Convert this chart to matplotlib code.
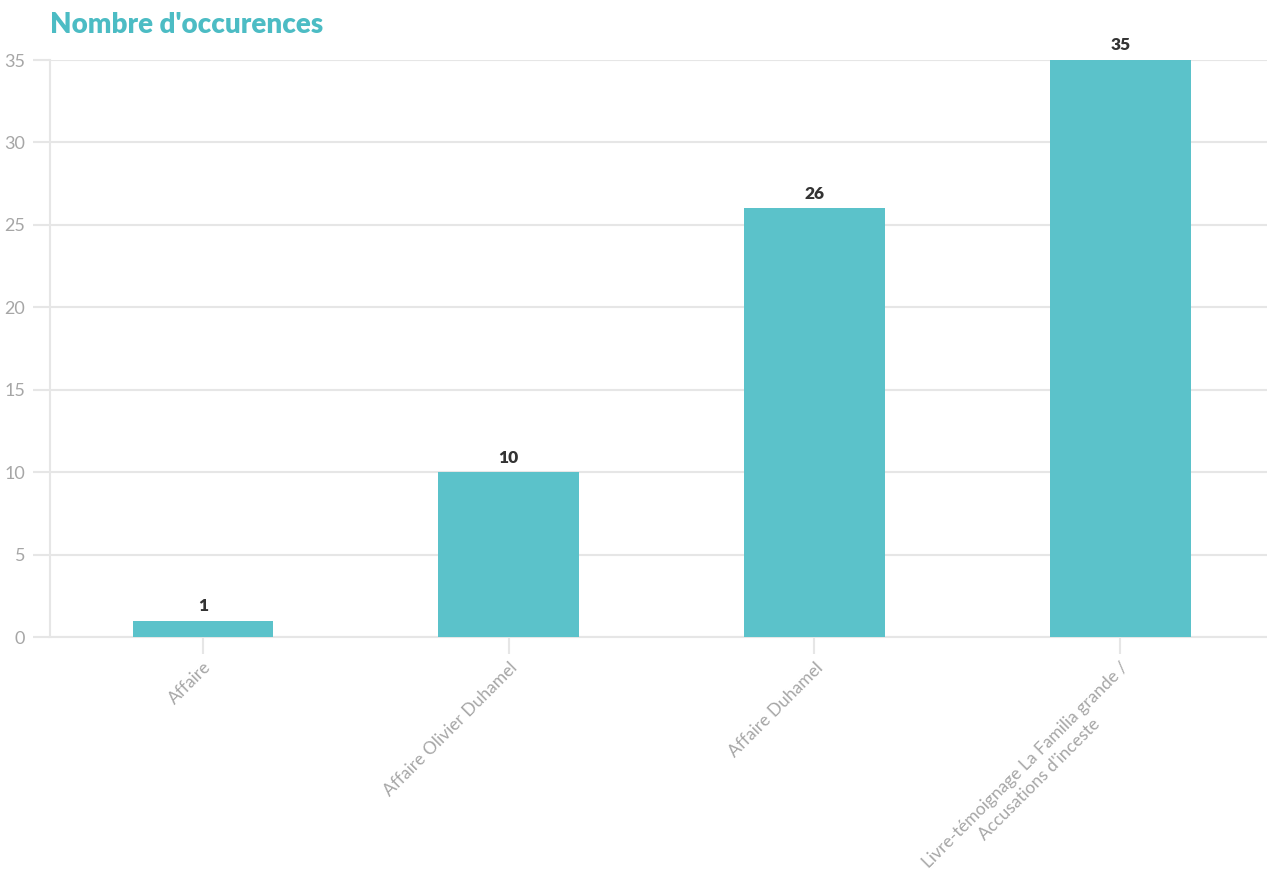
import matplotlib
matplotlib.use("Agg")
import matplotlib.pyplot as plt
import numpy as np

# data
categories = ["Affaire", "Affaire Olivier Duhamel", "Affaire Duhamel",
              "Livre-témoignage La Familia grande /\nAccusations d'inceste"]
values = [1, 10, 26, 35]
yticks = [0, 5, 10, 15, 20, 25, 30, 35]

plt.rcParams['font.family'] = ['Lato', 'DejaVu Sans']

teal = "#5bc2ca"
grid_col = "#e6e6e6"
tick_col = "#a6a6a6"

fig = plt.figure(figsize=(12.67, 8.93), dpi=100)
ax = fig.add_axes([50/1267, 1 - 637/893, 1 - 50/1267, (637 - 60)/893])

x = np.arange(len(categories))
ax.bar(x, values, width=0.46, color=teal, zorder=3)

for xi, v in zip(x, values):
    ax.text(xi, v + 0.4, str(v), ha="center", va="bottom",
            fontsize=12.5, fontweight="heavy", color="#333333")

ax.set_ylim(0, 35)
ax.set_xlim(-0.5, 3.48)
ax.set_yticks(yticks)
ax.set_yticklabels([str(t) for t in yticks], fontsize=13, color=tick_col)
ax.set_xticks(x)
ax.set_xticklabels(categories, rotation=45, ha="right", rotation_mode="anchor",
                   fontsize=12.5, color=tick_col, multialignment="center",
                   linespacing=1.3)

ax.grid(axis="y", color=grid_col, linewidth=1.5, zorder=0)
ax.tick_params(axis="y", length=12, color=grid_col, width=1.5, pad=6)
ax.tick_params(axis="x", length=12, color=grid_col, width=1.5, pad=4)

for side in ["top", "right"]:
    ax.spines[side].set_visible(False)
ax.spines["left"].set_color(grid_col)
ax.spines["left"].set_linewidth(1.5)
ax.spines["bottom"].set_color(grid_col)
ax.spines["bottom"].set_linewidth(1.5)

fig.text(50/1267, 1 - 25/893, "Nombre d'occurences", fontsize=20,
         fontweight="heavy", color="#4cbcc4", va="center", ha="left")

fig.savefig("out.png", dpi=100)
